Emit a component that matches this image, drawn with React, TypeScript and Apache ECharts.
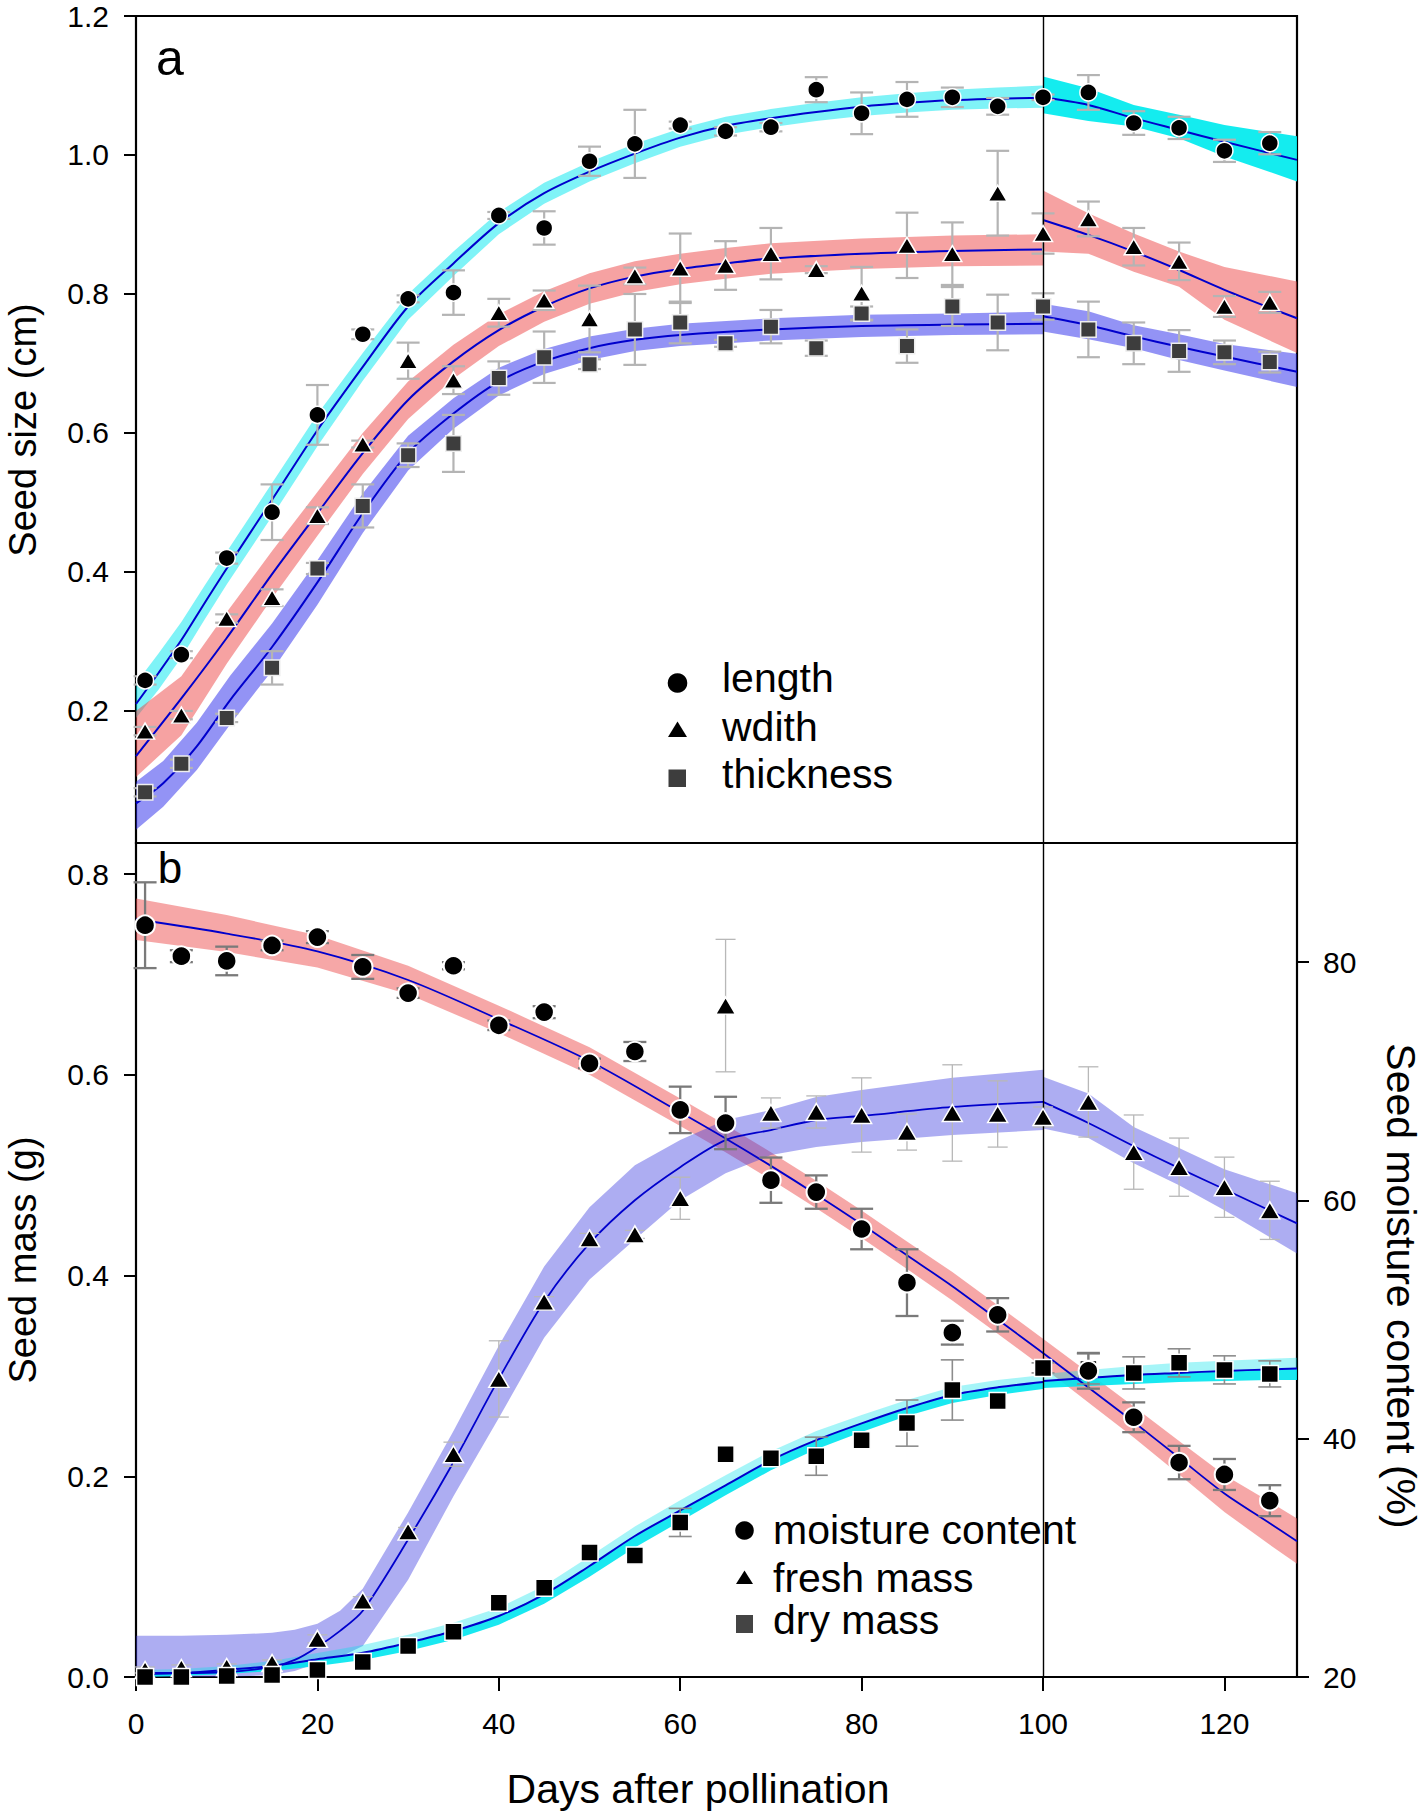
import React, { useEffect, useRef } from "react";
import * as echarts from "echarts";

const FONT = "'Liberation Sans', Arial, Helvetica, sans-serif";

// ---------------- Panel a : seed size (cm) ----------------
const days = [1, 5, 10, 15, 20, 25, 30, 35, 40, 45, 50, 55, 60, 65, 70, 75, 80, 85, 90, 95, 100, 105, 110, 115, 120, 125];

const lengthVals = [0.244, 0.281, 0.42, 0.486, 0.626, 0.742, 0.793, 0.802, 0.913, 0.895, 0.991, 1.016, 1.043, 1.034, 1.04, 1.094, 1.06, 1.08, 1.083, 1.07, 1.083, 1.09, 1.046, 1.039, 1.006, 1.017];
const lengthErr = [0.006, 0.005, 0.008, 0.04, 0.043, 0.007, 0.005, 0.032, 0.005, 0.024, 0.021, 0.049, 0.005, 0.006, 0.006, 0.018, 0.03, 0.025, 0.014, 0.012, 0.004, 0.025, 0.017, 0.016, 0.016, 0.016];

const widthVals = [0.171, 0.194, 0.333, 0.363, 0.481, 0.584, 0.704, 0.676, 0.773, 0.791, 0.764, 0.826, 0.837, 0.841, 0.858, 0.835, 0.801, 0.87, 0.858, 0.945, 0.887, 0.908, 0.868, 0.847, 0.782, 0.788];
const widthErr = [0.006, 0.006, 0.006, 0.012, 0.012, 0.005, 0.026, 0.02, 0.02, 0.014, 0.048, 0.012, 0.05, 0.035, 0.037, 0.005, 0.038, 0.047, 0.045, 0.061, 0.029, 0.025, 0.027, 0.027, 0.015, 0.015];

const thickVals = [0.083, 0.124, 0.19, 0.262, 0.405, 0.495, 0.568, 0.585, 0.679, 0.709, 0.699, 0.749, 0.759, 0.729, 0.753, 0.722, 0.772, 0.725, 0.782, 0.759, 0.782, 0.749, 0.729, 0.718, 0.716, 0.702];
const thickErr = [0.006, 0.006, 0.006, 0.024, 0.008, 0.031, 0.017, 0.041, 0.024, 0.037, 0.007, 0.051, 0.03, 0.005, 0.024, 0.011, 0.01, 0.024, 0.028, 0.04, 0.019, 0.04, 0.03, 0.03, 0.017, 0.015];

// fitted curves with confidence bands
const lenPreX = [0, 2.5, 5, 7.5, 10, 15, 20, 25, 30, 35, 40, 45, 50, 55, 60, 65, 70, 75, 80, 85, 90, 95, 100];
const lenPreFit = [0.21, 0.255, 0.302, 0.354, 0.405, 0.504, 0.604, 0.695, 0.782, 0.844, 0.902, 0.945, 0.976, 1.002, 1.025, 1.042, 1.053, 1.062, 1.0695, 1.075, 1.079, 1.081, 1.0825];
const lenPreHi = [0.24, 0.283, 0.328, 0.379, 0.429, 0.528, 0.627, 0.715, 0.8, 0.861, 0.918, 0.96, 0.99, 1.016, 1.038, 1.055, 1.066, 1.075, 1.083, 1.089, 1.094, 1.097, 1.1];
const lenPreLo = [0.19, 0.231, 0.277, 0.33, 0.382, 0.48, 0.581, 0.675, 0.763, 0.826, 0.886, 0.93, 0.962, 0.988, 1.012, 1.029, 1.04, 1.049, 1.056, 1.061, 1.065, 1.067, 1.068];
const lenPostX = [100, 105, 110, 115, 120, 128];
const lenPostFit = [1.083, 1.072, 1.053, 1.036, 1.019, 0.993];
const lenPostHi = [1.113, 1.096, 1.072, 1.058, 1.043, 1.027];
const lenPostLo = [1.06, 1.049, 1.041, 1.024, 0.998, 0.962];

const widPreX = [0, 5, 10, 15, 20, 25, 30, 35, 40, 45, 50, 55, 60, 65, 70, 80, 90, 100];
const widPreFit = [0.135, 0.218, 0.305, 0.397, 0.4845, 0.571, 0.6475, 0.703, 0.748, 0.782, 0.808, 0.825, 0.836, 0.844, 0.851, 0.858, 0.862, 0.864];
const widPreHi = [0.2, 0.25, 0.342, 0.43, 0.515, 0.6, 0.674, 0.727, 0.771, 0.804, 0.83, 0.847, 0.858, 0.866, 0.873, 0.88, 0.884, 0.886];
const widPreLo = [0.105, 0.165, 0.268, 0.362, 0.452, 0.541, 0.62, 0.678, 0.725, 0.76, 0.786, 0.803, 0.814, 0.822, 0.829, 0.836, 0.84, 0.841];
const widPostX = [100, 105, 110, 115, 120, 128];
const widPostFit = [0.9065, 0.885, 0.861, 0.8345, 0.806, 0.765];
const widPostHi = [0.949, 0.916, 0.887, 0.861, 0.839, 0.818];
const widPostLo = [0.861, 0.858, 0.832, 0.8105, 0.763, 0.715];

const thkPreX = [0, 3, 6.7, 10.4, 15, 20, 25, 30, 35, 40, 45, 50, 55, 60, 70, 80, 90, 100];
const thkPreFit = [0.067, 0.096, 0.149, 0.216, 0.292, 0.385, 0.4845, 0.571, 0.628, 0.674, 0.703, 0.722, 0.734, 0.741, 0.749, 0.754, 0.756, 0.757];
const thkPreHi = [0.098, 0.128, 0.183, 0.251, 0.326, 0.417, 0.513, 0.596, 0.65, 0.694, 0.721, 0.739, 0.75, 0.757, 0.765, 0.77, 0.772, 0.7745];
const thkPreLo = [0.029, 0.062, 0.115, 0.181, 0.258, 0.353, 0.456, 0.546, 0.606, 0.654, 0.685, 0.705, 0.718, 0.725, 0.733, 0.738, 0.741, 0.742];
const thkPostX = [100, 105, 110, 115, 120, 128];
const thkPostFit = [0.768, 0.755, 0.739, 0.724, 0.71, 0.688];
const thkPostHi = [0.786, 0.775, 0.755, 0.742, 0.728, 0.714];
const thkPostLo = [0.746, 0.735, 0.722, 0.705, 0.69, 0.666];

// ---------------- Panel b : seed mass (g) & moisture (%) ----------------
const moistureDays = [1, 5, 10, 15, 20, 25, 30, 35, 40, 45, 50, 55, 60, 65, 70, 75, 80, 85, 90, 95, 105, 110, 115, 120, 125];
const moistureVals = [83.1, 80.5, 80.1, 81.4, 82.1, 79.6, 77.4, 79.7, 74.7, 75.8, 71.5, 72.5, 67.6, 66.5, 61.7, 60.7, 57.6, 53.1, 48.9, 50.4, 45.7, 41.8, 38.0, 37.0, 34.8];
const moistureErr = [3.6, 0.5, 1.2, 0.4, 0.5, 1.0, 0.4, 0.3, 0.4, 0.5, 0.4, 0.8, 1.95, 2.2, 1.9, 1.4, 1.7, 2.8, 1.0, 1.4, 1.5, 1.25, 1.4, 1.3, 1.3];

const freshVals = [0.007, 0.009, 0.01, 0.014, 0.038, 0.076, 0.145, 0.222, 0.297, 0.374, 0.437, 0.441, 0.477, 0.669, 0.562, 0.563, 0.56, 0.543, 0.562, 0.561, 0.558, 0.573, 0.523, 0.508, 0.488, 0.465];
const freshErr = [0.003, 0.003, 0.003, 0.003, 0.004, 0.004, 0.004, 0.012, 0.038, 0.005, 0.005, 0.004, 0.021, 0.066, 0.015, 0.016, 0.037, 0.018, 0.048, 0.033, 0.01, 0.035, 0.037, 0.029, 0.03, 0.029];

const dryVals = [0.0, 0.0, 0.001, 0.002, 0.007, 0.015, 0.031, 0.045, 0.074, 0.089, 0.124, 0.121, 0.154, 0.222, 0.218, 0.22, 0.236, 0.253, 0.286, 0.275, 0.308, 0.307, 0.303, 0.313, 0.306, 0.302];
const dryErr = [0, 0, 0, 0, 0, 0, 0, 0, 0, 0, 0, 0, 0.014, 0, 0, 0.019, 0, 0.023, 0.03, 0, 0.005, 0.015, 0.016, 0.014, 0.014, 0.013];

const moistFitX = [0, 10, 20, 30, 40, 50, 60, 65, 70, 75, 80, 85, 90, 95, 100, 105, 110, 115, 120, 125, 128];
const moistFit = [83.6, 82.4, 80.9, 78.5, 75.2, 71.7, 67.4, 65.2, 62.9, 60.5, 58.0, 55.4, 52.8, 50.0, 47.2, 44.3, 41.4, 38.4, 35.4, 32.9, 31.4];
const moistHi = [85.35, 83.95, 82.25, 79.7, 76.35, 72.85, 68.55, 66.35, 64.05, 61.65, 59.15, 56.55, 54.0, 51.2, 48.4, 45.55, 42.7, 39.8, 36.95, 34.7, 33.3];
const moistLo = [81.85, 80.85, 79.55, 77.3, 74.05, 70.55, 66.25, 64.05, 61.75, 59.35, 56.85, 54.25, 51.6, 48.8, 46.0, 43.05, 40.1, 37.0, 33.85, 31.1, 29.5];

const freshPreX = [0, 5, 10, 15, 17.5, 20, 22.5, 25, 30, 35, 40, 45, 50, 55, 60, 65, 70, 75, 80, 90, 100];
const freshPreFit = [0.004, 0.004, 0.005, 0.01, 0.017, 0.03, 0.046, 0.066, 0.137, 0.214, 0.297, 0.374, 0.432, 0.475, 0.508, 0.535, 0.545, 0.555, 0.559, 0.568, 0.573];
const freshPreHi = [0.041, 0.041, 0.042, 0.044, 0.047, 0.053, 0.066, 0.088, 0.164, 0.245, 0.33, 0.409, 0.468, 0.51, 0.535, 0.555, 0.565, 0.578, 0.585, 0.597, 0.605];
const freshPreLo = [0.0, 0.0, 0.0, 0.002, 0.006, 0.014, 0.02, 0.031, 0.097, 0.18, 0.258, 0.338, 0.396, 0.436, 0.475, 0.502, 0.52, 0.528, 0.533, 0.54, 0.545];
const freshPostX = [100, 105, 110, 115, 120, 128];
const freshPostFit = [0.573, 0.552, 0.529, 0.507, 0.486, 0.452];
const freshPostHi = [0.598, 0.5815, 0.548, 0.527, 0.506, 0.482];
const freshPostLo = [0.5465, 0.537, 0.512, 0.49, 0.465, 0.422];

const dryPreX = [0, 5, 10, 15, 20, 25, 30, 35, 40, 45, 50, 55, 60, 65, 70, 75, 80, 85, 90, 95, 100];
const dryPreFit = [0.003, 0.004, 0.007, 0.011, 0.0176, 0.0242, 0.0342, 0.0458, 0.0608, 0.0824, 0.1106, 0.1405, 0.166, 0.191, 0.216, 0.236, 0.2527, 0.268, 0.281, 0.2886, 0.294];
const dryPreHi = [0.007, 0.008, 0.011, 0.016, 0.024, 0.032, 0.042, 0.054, 0.069, 0.091, 0.12, 0.15, 0.176, 0.201, 0.225, 0.245, 0.261, 0.276, 0.289, 0.296, 0.301];
const dryPreLo = [0.0, 0.001, 0.003, 0.006, 0.011, 0.017, 0.026, 0.037, 0.052, 0.073, 0.1, 0.129, 0.155, 0.181, 0.206, 0.227, 0.244, 0.26, 0.273, 0.281, 0.287];
const dryPostX = [100, 105, 110, 115, 120, 125, 128];
const dryPostFit = [0.295, 0.298, 0.301, 0.303, 0.305, 0.3065, 0.3075];
const dryPostHi = [0.302, 0.306, 0.31, 0.313, 0.315, 0.317, 0.318];
const dryPostLo = [0.288, 0.29, 0.292, 0.294, 0.295, 0.296, 0.296];

// tick values
const xTicks = [0, 20, 40, 60, 80, 100, 120];
const sizeTicks = [0.2, 0.4, 0.6, 0.8, 1.0, 1.2];
const massTicks = [0, 0.2, 0.4, 0.6, 0.8];
const moistTicks = [20, 40, 60, 80];

// ---------------- helpers ----------------
function band(xs: number[], lo: number[], hi: number[], color: string, xi: number, yi: number, z = 1) {
  const data = xs.map((x, i) => [x, lo[i], hi[i]]);
  return {
    type: "custom",
    xAxisIndex: xi,
    yAxisIndex: yi,
    z,
    silent: true,
    data,
    renderItem: (params: any, api: any) => {
      if (params.dataIndex !== 0) return null;
      const upper = data.map((d) => api.coord([d[0], d[2]]));
      const lower = data.map((d) => api.coord([d[0], d[1]])).reverse();
      return {
        type: "polygon",
        shape: { points: upper.concat(lower) },
        style: { fill: color, stroke: null },
      };
    },
  };
}

function fitLine(xs: number[], ys: number[], xi: number, yi: number, width = 2, extra: any = {}) {
  return {
    type: "line",
    xAxisIndex: xi,
    yAxisIndex: yi,
    z: 3,
    silent: true,
    data: xs.map((x, i) => [x, ys[i]]),
    smooth: 0.3,
    symbol: "none",
    lineStyle: { color: "#0000cc", width },
    ...extra,
  };
}

function errBars(xs: number[], ys: number[], es: number[], color: string, lw: number, cap: number, xi: number, yi: number) {
  const data = xs
    .map((x, i) => [x, ys[i] - es[i], ys[i] + es[i], es[i]])
    .filter((d) => d[3] > 0);
  return {
    type: "custom",
    xAxisIndex: xi,
    yAxisIndex: yi,
    z: 4,
    silent: true,
    data,
    renderItem: (params: any, api: any) => {
      const x = api.value(0);
      const p1 = api.coord([x, api.value(1)]);
      const p2 = api.coord([x, api.value(2)]);
      const style = { stroke: color, lineWidth: lw };
      return {
        type: "group",
        children: [
          { type: "line", shape: { x1: p1[0], y1: p1[1], x2: p2[0], y2: p2[1] }, style },
          { type: "line", shape: { x1: p1[0] - cap, y1: p1[1], x2: p1[0] + cap, y2: p1[1] }, style },
          { type: "line", shape: { x1: p2[0] - cap, y1: p2[1], x2: p2[0] + cap, y2: p2[1] }, style },
        ],
      };
    },
  };
}

function markers(name: string, xs: number[], ys: number[], symbol: string, size: any, fill: string, border: string, bw: number, xi: number, yi: number) {
  return {
    type: "scatter",
    name,
    xAxisIndex: xi,
    yAxisIndex: yi,
    z: 5,
    symbol,
    symbolSize: size,
    data: xs.map((x, i) => [x, ys[i]]),
    itemStyle: { color: fill, borderColor: border, borderWidth: bw, opacity: 1 },
  };
}

const vLine = {
  silent: true,
  symbol: ["none", "none"],
  label: { show: false },
  lineStyle: { color: "#000", width: 1.4, type: "solid" },
  emphasis: { disabled: true },
  data: [{ xAxis: 100 }],
};

const tickLabel = { color: "#000", fontSize: 30, fontFamily: FONT };

function buildOption() {
  const CYAN_PRE = "rgba(0,232,240,0.5)";
  const CYAN_POST = "rgba(0,234,238,0.92)";
  const RED = "rgba(238,70,70,0.5)";
  const BLUE = "rgba(40,40,235,0.5)";
  const BLUE_B = "rgba(60,60,225,0.42)";
  const RED_B = "rgba(238,80,80,0.5)";
  const DRY_UP = "rgba(0,225,235,0.35)";
  const DRY_DOWN = "rgba(0,230,238,0.9)";

  return {
    animation: false,
    backgroundColor: "#fff",
    grid: [
      { left: 136, top: 16, width: 1161, height: 827, show: true, borderColor: "#000", borderWidth: 2.2, backgroundColor: "transparent" },
      { left: 136, top: 843, width: 1161, height: 834, show: true, borderColor: "#000", borderWidth: 2.2, backgroundColor: "transparent" },
    ],
    xAxis: [
      {
        gridIndex: 0, type: "value", min: 0, max: 128,
        axisLine: { show: false }, axisTick: { show: false }, axisLabel: { show: false }, splitLine: { show: false },
      },
      {
        gridIndex: 1, type: "value", min: 0, max: 128,
        axisLine: { show: false },
        axisTick: { show: true, length: 14, lineStyle: { color: "#000", width: 2 }, customValues: xTicks },
        axisLabel: { ...tickLabel, margin: 31, customValues: xTicks, formatter: (v: number) => String(v) },
        splitLine: { show: false },
      },
    ],
    yAxis: [
      {
        gridIndex: 0, type: "value", min: 0.01, max: 1.2,
        axisLine: { show: false },
        axisTick: { show: true, length: 12, lineStyle: { color: "#000", width: 2 }, customValues: sizeTicks },
        axisLabel: { ...tickLabel, margin: 27, customValues: sizeTicks, formatter: (v: number) => v.toFixed(1) },
        splitLine: { show: false },
      },
      {
        gridIndex: 1, type: "value", min: 0, max: 0.831,
        axisLine: { show: false },
        axisTick: { show: true, length: 12, lineStyle: { color: "#000", width: 2 }, customValues: massTicks },
        axisLabel: { ...tickLabel, margin: 27, customValues: massTicks, formatter: (v: number) => v.toFixed(1) },
        splitLine: { show: false },
      },
      {
        gridIndex: 1, type: "value", position: "right", min: 20, max: 90,
        axisLine: { show: false },
        axisTick: { show: true, length: 12, lineStyle: { color: "#000", width: 2 }, customValues: moistTicks },
        axisLabel: { ...tickLabel, margin: 26, customValues: moistTicks, formatter: (v: number) => String(v) },
        splitLine: { show: false },
      },
    ],
    series: [
      // ---- panel a bands
      band(lenPreX, lenPreLo, lenPreHi, CYAN_PRE, 0, 0),
      band(widPreX, widPreLo, widPreHi, RED, 0, 0),
      band(thkPreX, thkPreLo, thkPreHi, BLUE, 0, 0),
      band(lenPostX, lenPostLo, lenPostHi, CYAN_POST, 0, 0),
      band(widPostX, widPostLo, widPostHi, RED, 0, 0),
      band(thkPostX, thkPostLo, thkPostHi, BLUE, 0, 0),
      // ---- panel a fits
      fitLine(lenPreX, lenPreFit, 0, 0, 2, { markLine: vLine }),
      fitLine(widPreX, widPreFit, 0, 0),
      fitLine(thkPreX, thkPreFit, 0, 0),
      fitLine(lenPostX, lenPostFit, 0, 0),
      fitLine(widPostX, widPostFit, 0, 0),
      fitLine(thkPostX, thkPostFit, 0, 0),
      // ---- panel a error bars
      errBars(days, lengthVals, lengthErr, "#b4b4b4", 2.2, 11.5, 0, 0),
      errBars(days, widthVals, widthErr, "#b4b4b4", 2.2, 11.5, 0, 0),
      errBars(days, thickVals, thickErr, "#b4b4b4", 2.2, 11.5, 0, 0),
      // ---- panel a markers
      markers("length", days, lengthVals, "circle", 17, "#000", "#fff", 1.5, 0, 0),
      markers("wdith", days, widthVals, "triangle", [19, 16], "#000", "#fff", 1.5, 0, 0),
      markers("thickness", days, thickVals, "rect", 15.5, "#3d3d3d", "#eeeeee", 1.5, 0, 0),

      // ---- panel b bands
      band(moistFitX, moistLo, moistHi, RED_B, 1, 2),
      band(freshPreX, freshPreLo, freshPreHi, BLUE_B, 1, 1),
      band(freshPostX, freshPostLo, freshPostHi, BLUE_B, 1, 1),
      band(dryPreX, dryPreFit, dryPreHi, DRY_UP, 1, 1),
      band(dryPreX, dryPreLo, dryPreFit, DRY_DOWN, 1, 1),
      band(dryPostX, dryPostFit, dryPostHi, DRY_UP, 1, 1),
      band(dryPostX, dryPostLo, dryPostFit, DRY_DOWN, 1, 1),
      // ---- panel b fits
      fitLine(moistFitX, moistFit, 1, 2, 1.8, { markLine: vLine }),
      fitLine(freshPreX, freshPreFit, 1, 1, 1.8),
      fitLine(freshPostX, freshPostFit, 1, 1, 1.8),
      fitLine(dryPreX, dryPreFit, 1, 1, 2),
      fitLine(dryPostX, dryPostFit, 1, 1, 2),
      // ---- panel b error bars
      errBars(days, freshVals, freshErr, "#b8b8b8", 1.3, 10, 1, 1),
      errBars(days, dryVals, dryErr, "#8c8c8c", 1.6, 11.5, 1, 1),
      errBars(moistureDays, moistureVals, moistureErr, "#7a7a7a", 2.3, 11.5, 1, 2),
      // ---- panel b markers
      markers("fresh mass", days, freshVals, "triangle", [20, 17], "#000", "#fff", 1.5, 1, 1),
      markers("dry mass", days, dryVals, "rect", 17, "#000", "#fff", 1.5, 1, 1),
      markers("moisture content", moistureDays, moistureVals, "circle", 19.5, "#000", "#fff", 2, 1, 2),
    ],
    graphic: [
      // panel letters
      { type: "text", x: 170, y: 57.5, style: { text: "a", fontSize: 50, fontFamily: FONT, fill: "#000", align: "center", verticalAlign: "middle" } },
      { type: "text", x: 170, y: 867.5, style: { text: "b", fontSize: 44, fontFamily: FONT, fill: "#000", align: "center", verticalAlign: "middle" } },
      // axis titles
      { type: "text", x: 23, y: 430, rotation: Math.PI / 2, style: { text: "Seed size (cm)", fontSize: 38, fontFamily: FONT, fill: "#000", align: "center", verticalAlign: "middle" } },
      { type: "text", x: 23, y: 1260, rotation: Math.PI / 2, style: { text: "Seed mass (g)", fontSize: 38, fontFamily: FONT, fill: "#000", align: "center", verticalAlign: "middle" } },
      { type: "text", x: 1401, y: 1286, rotation: -Math.PI / 2, style: { text: "Seed moisture content (%)", fontSize: 41, fontFamily: FONT, fill: "#000", align: "center", verticalAlign: "middle" } },
      { type: "text", x: 698, y: 1789, style: { text: "Days after pollination", fontSize: 41, fontFamily: FONT, fill: "#000", align: "center", verticalAlign: "middle" } },
      // legend panel a
      { type: "circle", shape: { cx: 677.5, cy: 683, r: 9.8 }, style: { fill: "#000" } },
      { type: "polygon", shape: { points: [[668, 737], [687, 737], [677.5, 721.5]] }, style: { fill: "#000" } },
      { type: "rect", shape: { x: 668.5, y: 769.5, width: 17.5, height: 17.5 }, style: { fill: "#3d3d3d" } },
      { type: "text", x: 722, y: 678, style: { text: "length", fontSize: 41, fontFamily: FONT, fill: "#000", align: "left", verticalAlign: "middle" } },
      { type: "text", x: 722, y: 727, style: { text: "wdith", fontSize: 41, fontFamily: FONT, fill: "#000", align: "left", verticalAlign: "middle" } },
      { type: "text", x: 722, y: 773.5, style: { text: "thickness", fontSize: 41, fontFamily: FONT, fill: "#000", align: "left", verticalAlign: "middle" } },
      // legend panel b
      { type: "circle", shape: { cx: 744.5, cy: 1530.5, r: 9.3 }, style: { fill: "#000" } },
      { type: "polygon", shape: { points: [[736, 1584], [753, 1584], [744.5, 1570.5]] }, style: { fill: "#000" } },
      { type: "rect", shape: { x: 736, y: 1615, width: 17, height: 18 }, style: { fill: "#444" } },
      { type: "text", x: 773, y: 1530, style: { text: "moisture content", fontSize: 41, fontFamily: FONT, fill: "#000", align: "left", verticalAlign: "middle" } },
      { type: "text", x: 773, y: 1578, style: { text: "fresh mass", fontSize: 41, fontFamily: FONT, fill: "#000", align: "left", verticalAlign: "middle" } },
      { type: "text", x: 773, y: 1620, style: { text: "dry mass", fontSize: 41, fontFamily: FONT, fill: "#000", align: "left", verticalAlign: "middle" } },
    ],
  };
}

export default function App() {
  const ref = useRef<HTMLDivElement>(null);
  useEffect(() => {
    document.body.style.margin = "0";
    const chart = echarts.init(ref.current as HTMLDivElement, null, { renderer: "svg" });
    chart.setOption(buildOption() as any);
    return () => {
      chart.dispose();
    };
  }, []);
  return <div ref={ref} style={{ width: 1424, height: 1812 }} />;
}
